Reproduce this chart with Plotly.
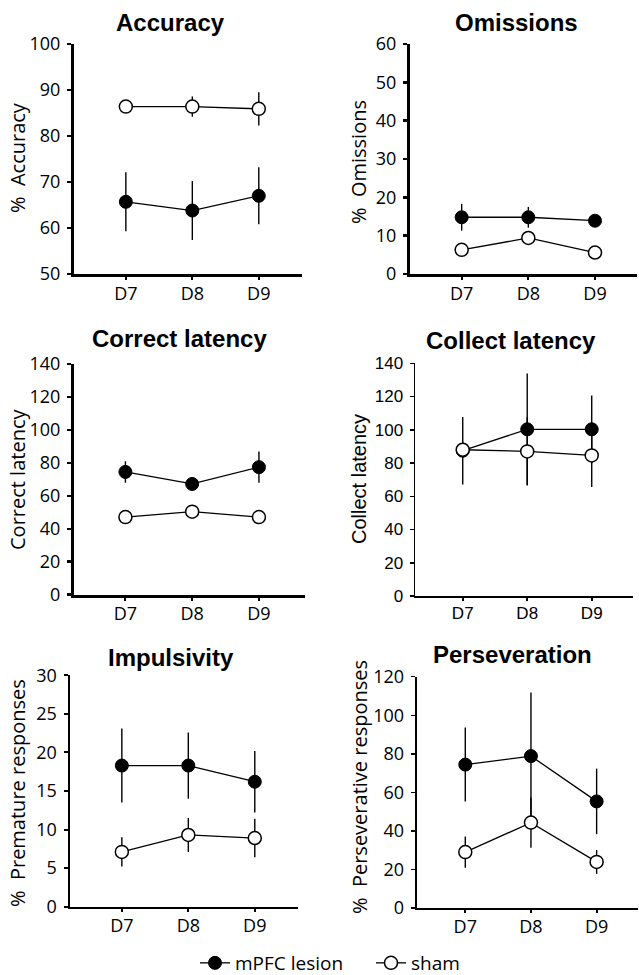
import plotly.graph_objects as go

days = ['D7', 'D8', 'D9']

accuracy_lesion = [65.7, 63.8, 67.0]
accuracy_lesion_err = [6.4, 6.4, 6.2]
accuracy_sham = [86.4, 86.4, 85.9]
accuracy_sham_err = [1.0, 2.2, 3.6]

omissions_lesion = [14.8, 14.8, 13.9]
omissions_lesion_err = [3.5, 2.7, 1.0]
omissions_sham = [6.3, 9.4, 5.6]
omissions_sham_err = [0.8, 1.0, 0.8]

correct_lesion = [74.5, 67.2, 77.4]
correct_lesion_err = [6.5, 4.0, 9.5]
correct_sham = [47.1, 50.4, 47.1]
correct_sham_err = [2.0, 2.0, 2.0]

collect_lesion = [87.4, 100.3, 100.3]
collect_lesion_err = [20.3, 33.5, 20.4]
collect_sham = [88.0, 87.0, 84.6]
collect_sham_err = [5.0, 20.5, 19.0]

impuls_lesion = [18.3, 18.3, 16.2]
impuls_lesion_err = [4.8, 4.3, 4.0]
impuls_sham = [7.1, 9.3, 8.9]
impuls_sham_err = [1.9, 2.2, 2.5]

persev_lesion = [74.4, 78.8, 55.3]
persev_lesion_err = [19.2, 33.0, 17.0]
persev_sham = [29.0, 44.3, 23.9]
persev_sham_err = [8.1, 13.0, 6.2]

W, H = 639, 975


def fx(px):
    return px / W


def fy(py):
    return 1 - py / H


panels = [
    dict(title='Accuracy', ytitle='%  Accuracy', les=accuracy_lesion, lese=accuracy_lesion_err,
         sh=accuracy_sham, she=accuracy_sham_err, yr=[50, 100], dt=10,
         box=(74, 302, 44, 274), xr=[-0.78, 2.65], tpos=(170, 22), ypos=(17, 158), lw=3, font='Open Sans'),
    dict(title='Omissions', ytitle='%  Omissions', les=omissions_lesion, lese=omissions_lesion_err,
         sh=omissions_sham, she=omissions_sham_err, yr=[0, 60], dt=10,
         box=(410, 637, 44, 274), xr=[-0.775, 2.63], tpos=(516, 22), ypos=(359, 162), lw=3, font='Open Sans'),
    dict(title='Correct latency', ytitle='Correct latency', les=correct_lesion, lese=correct_lesion_err,
         sh=correct_sham, she=correct_sham_err, yr=[0, 140], dt=20,
         box=(74, 305, 364, 594.7), xr=[-0.77, 2.69], tpos=(179, 338), ypos=(17, 480), lw=3, font='Open Sans'),
    dict(title='Collect latency', ytitle='Collect latency', les=collect_lesion, lese=collect_lesion_err,
         sh=collect_sham, she=collect_sham_err, yr=[0, 140], dt=20,
         box=(415, 633, 363.3, 596), xr=[-0.74, 2.64], tpos=(511, 340), ypos=(359, 479), lw=1.5, font='Liberation Sans'),
    dict(title='Impulsivity', ytitle='%  Premature responses', les=impuls_lesion, lese=impuls_lesion_err,
         sh=impuls_sham, she=impuls_sham_err, yr=[0, 30], dt=5,
         box=(70, 298, 675.3, 906.7), xr=[-0.78, 2.65], tpos=(171, 657), ypos=(17, 793), lw=2.5, font='Open Sans'),
    dict(title='Perseveration', ytitle='%  Perseverative responses', les=persev_lesion, lese=persev_lesion_err,
         sh=persev_sham, she=persev_sham_err, yr=[0, 120], dt=20,
         box=(416.7, 638, 676.7, 908), xr=[-0.74, 2.63], tpos=(512, 654), ypos=(359, 787), lw=2, font='Open Sans'),
]

fig = go.Figure()
layout = dict(width=W, height=H, margin=dict(l=0, r=0, t=0, b=0, pad=0, autoexpand=False),
              paper_bgcolor='white', plot_bgcolor='white', annotations=[], hovermode=False)

for i, p in enumerate(panels):
    n = '' if i == 0 else str(i + 1)
    xa, ya = 'x' + n, 'y' + n
    first = (i == 0)
    fig.add_trace(go.Scatter(
        x=days, y=p['les'], xaxis=xa, yaxis=ya, mode='lines+markers', name='mPFC lesion',
        showlegend=first, legendrank=1,
        line=dict(color='black', width=1.3),
        marker=dict(symbol='circle', size=13, color='black', line=dict(color='black', width=1)),
        error_y=dict(type='data', array=p['lese'], width=0, thickness=1.4, color='black'),
        cliponaxis=False))
    fig.add_trace(go.Scatter(
        x=days, y=p['sh'], xaxis=xa, yaxis=ya, mode='lines+markers', name='sham',
        showlegend=first, legendrank=2,
        line=dict(color='black', width=1.3),
        marker=dict(symbol='circle', size=13, color='white', line=dict(color='black', width=1.5)),
        error_y=dict(type='data', array=p['she'], width=0, thickness=1.4, color='black'),
        cliponaxis=False))
    x0, x1, yt, yb = p['box']
    fs = 18 if p['font'] == 'Open Sans' else 17
    layout['xaxis' + n] = dict(
        domain=[fx(x0), min(1.0, fx(x1))], anchor=ya, type='category', range=p['xr'],
        showline=True, linecolor='black', linewidth=p['lw'], ticks='outside', ticklen=3,
        tickwidth=2, tickcolor='black', showgrid=False, zeroline=False, automargin=False,
        tickfont=dict(family=p['font'], size=fs, color='black'), ticklabelstandoff=-2,
        fixedrange=True)
    layout['yaxis' + n] = dict(
        domain=[fy(yb), fy(yt)], anchor=xa, range=p['yr'], dtick=p['dt'],
        tick0=p['yr'][0], showline=True, linecolor='black', linewidth=p['lw'],
        ticks='outside', ticklen=4, tickwidth=max(1.5, p['lw'] - 0.5), tickcolor='black',
        showgrid=False, zeroline=False, automargin=False, ticklabelstandoff=3,
        tickfont=dict(family=p['font'], size=fs, color='black'), fixedrange=True)
    tx, ty = p['tpos']
    layout['annotations'].append(dict(
        text='<b>%s</b>' % p['title'], x=fx(tx), y=fy(ty), xref='paper', yref='paper',
        showarrow=False, xanchor='center', yanchor='middle',
        font=dict(family='Liberation Sans', size=24, color='black')))
    yx, yy = p['ypos']
    layout['annotations'].append(dict(
        text=p['ytitle'], x=fx(yx), y=fy(yy), xref='paper', yref='paper',
        showarrow=False, xanchor='center', yanchor='middle', textangle=-90,
        font=dict(family=p['font'], size=20, color='black')))

layout['legend'] = dict(orientation='h', x=fx(195), xanchor='left', y=fy(963),
                        yanchor='middle', font=dict(family='Open Sans', size=19, color='black'),
                        bgcolor='rgba(0,0,0,0)', entrywidth=131, entrywidthmode='pixels')
fig.update_layout(**layout)
fig.write_html('out.html', config={'displayModeBar': False, 'staticPlot': True},
               post_script="document.body.style.margin='0';document.body.style.padding='0';")
